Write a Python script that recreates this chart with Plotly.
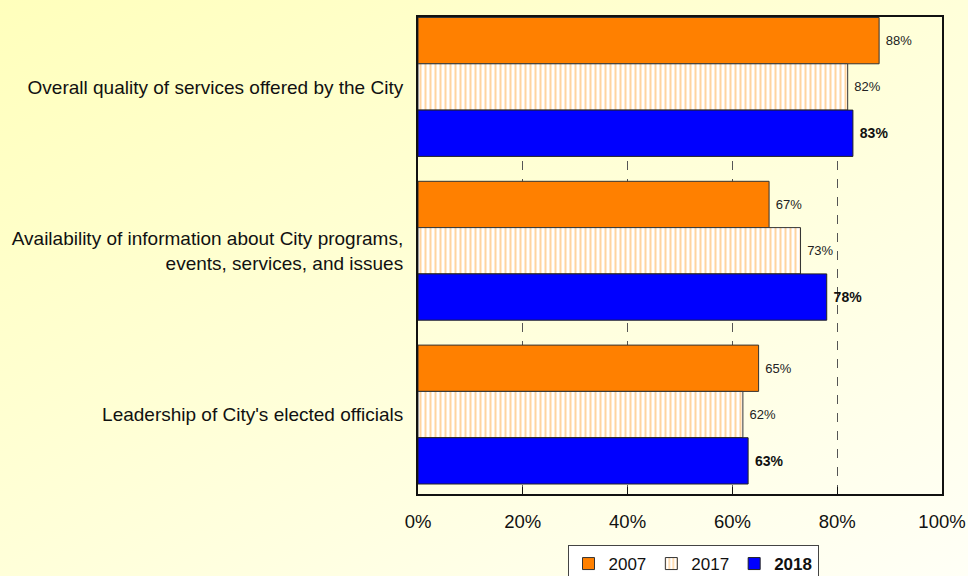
import base64
import plotly.graph_objects as go

# Survey items (top to bottom) and percent positive by year
categories = [
    "Overall quality of services offered by the City",
    "Availability of information about City programs,<br>events, services, and issues",
    "Leadership of City's elected officials",
]
years = ["2007", "2017", "2018"]
v2007 = [88, 67, 65]
v2017 = [82, 73, 62]
v2018 = [83, 78, 63]

W, H = 968, 576
M_L, M_R, M_T, M_B = 418, 26, 17, 82
plot_w = W - M_L - M_R
plot_h = H - M_T - M_B

FONT = "Liberation Sans, Arial, sans-serif"
GAP = "\u00a0"  # small extra space between bar end and its value label

fig = go.Figure()

fig.add_trace(go.Bar(
    y=categories, x=v2007, name=years[0], orientation="h",
    marker=dict(color="#FF8000", line=dict(color="#333333", width=1)),
    text=[f"{GAP}{v}%" for v in v2007], textposition="outside",
    textfont=dict(size=13, color="#222222", family=FONT),
    cliponaxis=False,
))
fig.add_trace(go.Bar(
    y=categories, x=v2017, name=years[1], orientation="h",
    marker=dict(
        color="white",
        line=dict(color="#333333", width=1),
        pattern=dict(shape="|", fgcolor="#FFA940", bgcolor="white",
                     size=5, solidity=0.4, fillmode="overlay"),
    ),
    text=[f"{GAP}{v}%" for v in v2017], textposition="outside",
    textfont=dict(size=13, color="#222222", family=FONT),
    cliponaxis=False,
))
fig.add_trace(go.Bar(
    y=categories, x=v2018, name="<b>" + years[2] + "</b>", orientation="h",
    marker=dict(color="#0000FF", line=dict(color="#222222", width=1)),
    text=[f"<b>{GAP}{v}%</b>" for v in v2018], textposition="outside",
    textfont=dict(size=14, color="#111111", family=FONT),
    cliponaxis=False,
))

# Soft yellow backdrop behind the whole figure
svg = (
    f'<svg xmlns="http://www.w3.org/2000/svg" width="{W}" height="{H}">'
    '<defs><linearGradient id="g" x1="0" y1="0" x2="1" y2="1">'
    '<stop offset="0" stop-color="#FFFFBC"/>'
    '<stop offset="1" stop-color="#FFFFF6"/>'
    '</linearGradient></defs>'
    f'<rect width="{W}" height="{H}" fill="url(#g)"/></svg>'
)
bg_src = "data:image/svg+xml;base64," + base64.b64encode(svg.encode()).decode()

fig.update_layout(
    width=W, height=H,
    margin=dict(l=M_L, r=M_R, t=M_T, b=M_B, pad=0, autoexpand=False),
    paper_bgcolor="#FFFFE0",
    plot_bgcolor="white",
    barmode="group",
    bargap=0.152,
    bargroupgap=0,
    font=dict(family=FONT, size=19, color="#111111"),
    showlegend=True,
    legend=dict(
        orientation="h",
        xref="container", yref="container",
        x=693 / W, xanchor="center",
        y=1 - 545 / H, yanchor="top",
        bgcolor="white", bordercolor="#444444", borderwidth=1,
        font=dict(size=17, family=FONT, color="#111111"),
        itemwidth=30, traceorder="normal", tracegroupgap=0,
    ),
    images=[dict(
        source=bg_src, xref="paper", yref="paper",
        x=-M_L / plot_w, y=1 + M_T / plot_h,
        sizex=W / plot_w, sizey=H / plot_h,
        xanchor="left", yanchor="top", sizing="stretch", layer="below",
    )],
)

fig.update_xaxes(
    range=[0, 100], dtick=20, ticksuffix="%", automargin=False,
    showgrid=True, gridcolor="#555555", griddash="dash", gridwidth=1,
    ticks="inside", ticklen=7, tickcolor="#111111",
    showline=True, linecolor="#111111", linewidth=2, mirror=True,
    zeroline=False, tickfont=dict(size=18.5), ticklabelstandoff=10,
)
fig.update_yaxes(
    range=[2.485, -0.427], automargin=False,
    showline=True, linecolor="#111111", linewidth=2, mirror=True,
    ticks="", ticklabelstandoff=9, tickfont=dict(size=19),
)

fig.write_html("out.html")
